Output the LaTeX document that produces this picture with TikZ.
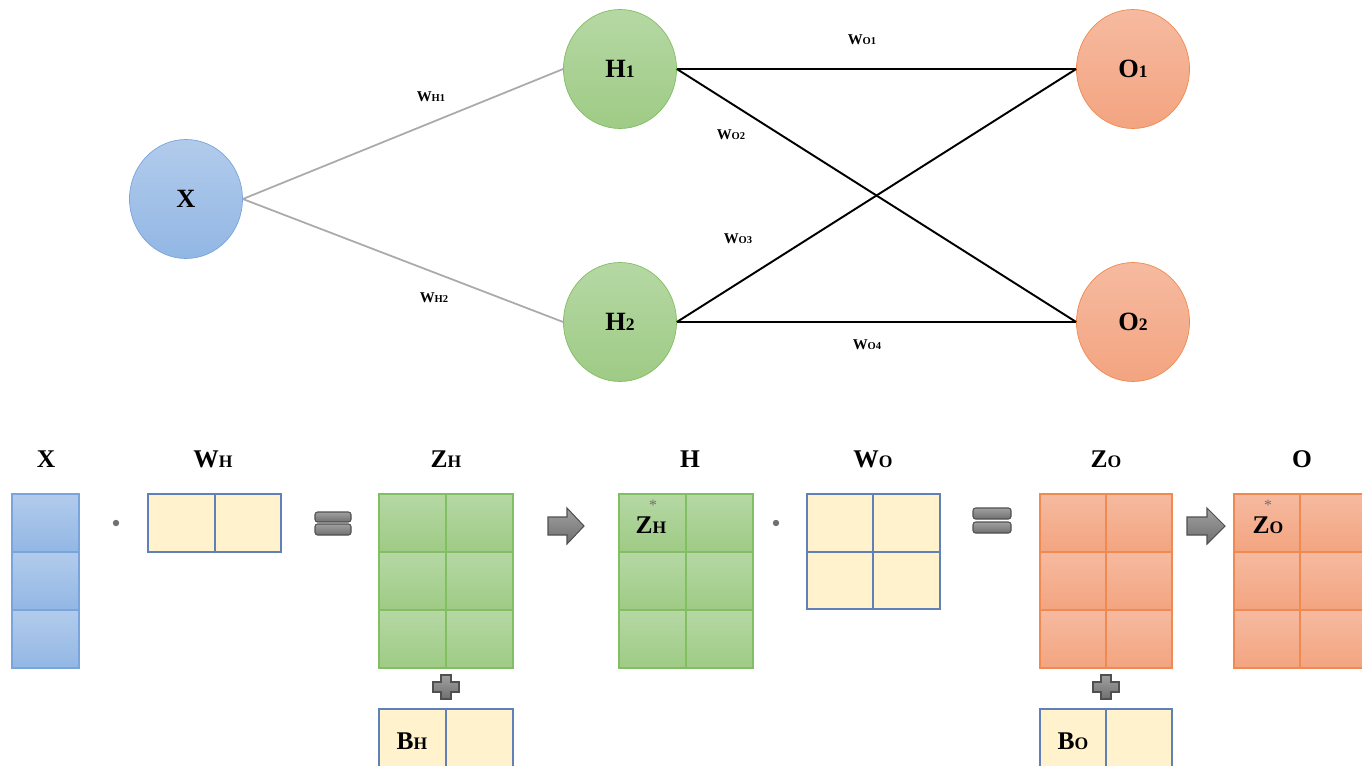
\documentclass[tikz,border=0pt]{standalone}
\usepackage{fontspec}
\setmainfont{Liberation Serif}
\definecolor{bluetop}{RGB}{178,203,236}
\definecolor{bluebot}{RGB}{146,183,228}
\definecolor{blueline}{RGB}{122,164,220}
\definecolor{greentop}{RGB}{182,216,164}
\definecolor{greenbot}{RGB}{158,203,133}
\definecolor{greenline}{RGB}{130,190,98}
\definecolor{orangetop}{RGB}{246,186,160}
\definecolor{orangebot}{RGB}{243,164,128}
\definecolor{orangeline}{RGB}{240,138,80}
\definecolor{paper}{RGB}{255,242,204}
\definecolor{paperline}{RGB}{96,128,184}
\definecolor{shapetop}{RGB}{160,160,160}
\definecolor{shapebot}{RGB}{112,112,112}
\definecolor{shapeline}{RGB}{80,80,80}
\definecolor{wire}{RGB}{170,170,170}
\usepackage{tikz}
\usetikzlibrary{shapes.geometric}
\newcommand{\bigsub}[1]{{\fontsize{10}{11}\selectfont #1}}
\newcommand{\tinysub}[1]{{\fontsize{6}{7}\selectfont #1}}

\begin{document}
\begin{tikzpicture}[x=0.02cm, y=-0.02cm,
    neuron/.style={ellipse, minimum width=2.26cm, minimum height=2.38cm, inner sep=0pt,
      font=\fontsize{15}{17}\selectfont\bfseries},
    bluenode/.style={neuron, top color=bluetop, bottom color=bluebot, draw=blueline},
    greennode/.style={neuron, top color=greentop, bottom color=greenbot, draw=greenline},
    orangenode/.style={neuron, top color=orangetop, bottom color=orangebot, draw=orangeline},
    wlabel/.style={font=\fontsize{8.5}{9}\selectfont\bfseries, inner sep=0pt},
    title/.style={font=\fontsize{14.5}{16}\selectfont\bfseries, inner sep=0pt},
    bluecell/.style={top color=bluetop, bottom color=bluebot, draw=blueline, line width=0.6pt},
    greencell/.style={top color=greentop, bottom color=greenbot, draw=greenline, line width=0.6pt},
    orangecell/.style={top color=orangetop, bottom color=orangebot, draw=orangeline, line width=0.6pt},
    papercell/.style={fill=paper, draw=paperline, line width=0.6pt},
    grayshape/.style={top color=shapetop, bottom color=shapebot, draw=shapeline, line width=0.6pt},
    starmark/.style={font=\fontsize{9}{9}\selectfont, text=shapebot, inner sep=0pt}]
        \clip (0,0) rectangle (1362,765);
        \fill[white] (0,0) rectangle (1362,765);
        % network
        \node[bluenode] (X) at (186,199) {X};
        \node[greennode] (H1) at (620,69) {H\bigsub{1}};
        \node[greennode] (H2) at (620,322) {H\bigsub{2}};
        \node[orangenode] (O1) at (1133,69) {O\bigsub{1}};
        \node[orangenode] (O2) at (1133,322) {O\bigsub{2}};
        \draw[wire, line width=1pt] (X.east) -- (H1.west);
        \draw[wire, line width=1pt] (X.east) -- (H2.west);
        \draw[black, line width=1.1pt] (H1.east) -- (O1.west);
        \draw[black, line width=1.1pt] (H1.east) -- (O2.west);
        \draw[black, line width=1.1pt] (H2.east) -- (O1.west);
        \draw[black, line width=1.1pt] (H2.east) -- (O2.west);
        \node[wlabel] (wh1) at (431,97) {W\tinysub{H1}};
        \node[wlabel] (wh2) at (434,298) {W\tinysub{H2}};
        \node[wlabel] (wo1) at (862,40) {W\tinysub{O1}};
        \node[wlabel] (wo2) at (731,135) {W\tinysub{O2}};
        \node[wlabel] (wo3) at (738,239) {W\tinysub{O3}};
        \node[wlabel] (wo4) at (867,345) {W\tinysub{O4}};
        % matrices
        \node[title] (tx) at (46,459) {X};
        \node[title] (twh) at (213,459) {W\bigsub{H}};
        \node[title] (tzh) at (446,459) {Z\bigsub{H}};
        \node[title] (th) at (690,459) {H};
        \node[title] (two) at (873,459) {W\bigsub{O}};
        \node[title] (tzo) at (1106,459) {Z\bigsub{O}};
        \node[title] (to) at (1302,459) {O};
        \shade[bluecell] (12,494) rectangle ++(67,58);
        \shade[bluecell] (12,552) rectangle ++(67,58);
        \shade[bluecell] (12,610) rectangle ++(67,58);
        \fill[shapebot] (116,523) circle (3.2);
        \draw[papercell] (148,494) rectangle ++(67,58);
        \draw[papercell] (215,494) rectangle ++(66,58);
        \draw[grayshape, rounded corners=1.5] (315,512) rectangle (351,522);
        \draw[grayshape, rounded corners=1.5] (315,524) rectangle (351,535);
        \shade[greencell] (379,494) rectangle ++(67,58);
        \shade[greencell] (446,494) rectangle ++(67,58);
        \shade[greencell] (379,552) rectangle ++(67,58);
        \shade[greencell] (446,552) rectangle ++(67,58);
        \shade[greencell] (379,610) rectangle ++(67,58);
        \shade[greencell] (446,610) rectangle ++(67,58);
        \draw[grayshape] (433,682) -- (441,682) -- (441,675) -- (451,675) -- (451,682) -- (459,682)
          -- (459,692) -- (451,692) -- (451,699) -- (441,699) -- (441,692) -- (433,692) -- cycle;
        \draw[papercell] (379,709) rectangle ++(67,58);
        \draw[papercell] (446,709) rectangle ++(67,58);
        \node[title, anchor=center] (bh) at (412,741) {B\bigsub{H}};
        \draw[grayshape] (548,517) -- (567,517) -- (567,508) -- (584,526) -- (567,544) -- (567,535) -- (548,535) -- cycle;
        \shade[greencell] (619,494) rectangle ++(67,58);
        \shade[greencell] (686,494) rectangle ++(67,58);
        \shade[greencell] (619,552) rectangle ++(67,58);
        \shade[greencell] (686,552) rectangle ++(67,58);
        \shade[greencell] (619,610) rectangle ++(67,58);
        \shade[greencell] (686,610) rectangle ++(67,58);
        \node[title] (zh) at (651,525) {Z\bigsub{H}};
        \node[starmark] (zhstar) at (653,505) {*};
        \fill[shapebot] (776,523) circle (3.2);
        \draw[papercell] (807,494) rectangle ++(66,58);
        \draw[papercell] (873,494) rectangle ++(67,58);
        \draw[papercell] (807,552) rectangle ++(66,57);
        \draw[papercell] (873,552) rectangle ++(67,57);
        \draw[grayshape, rounded corners=1.5] (973,508) rectangle (1011,519);
        \draw[grayshape, rounded corners=1.5] (973,522) rectangle (1011,533);
        \shade[orangecell] (1040,494) rectangle ++(66,58);
        \shade[orangecell] (1106,494) rectangle ++(66,58);
        \shade[orangecell] (1040,552) rectangle ++(66,58);
        \shade[orangecell] (1106,552) rectangle ++(66,58);
        \shade[orangecell] (1040,610) rectangle ++(66,58);
        \shade[orangecell] (1106,610) rectangle ++(66,58);
        \draw[grayshape] (1093,682) -- (1101,682) -- (1101,675) -- (1111,675) -- (1111,682) -- (1119,682)
          -- (1119,692) -- (1111,692) -- (1111,699) -- (1101,699) -- (1101,692) -- (1093,692) -- cycle;
        \draw[papercell] (1040,709) rectangle ++(66,58);
        \draw[papercell] (1106,709) rectangle ++(66,58);
        \node[title] (bo) at (1073,741) {B\bigsub{O}};
        \draw[grayshape] (1187,517) -- (1207,517) -- (1207,508) -- (1225,526) -- (1207,544) -- (1207,535) -- (1187,535) -- cycle;
        \shade[orangecell] (1234,494) rectangle ++(66,58);
        \shade[orangecell] (1300,494) rectangle ++(67,58);
        \shade[orangecell] (1234,552) rectangle ++(66,58);
        \shade[orangecell] (1300,552) rectangle ++(67,58);
        \shade[orangecell] (1234,610) rectangle ++(66,58);
        \shade[orangecell] (1300,610) rectangle ++(67,58);
        \node[title] (zo) at (1268,525) {Z\bigsub{O}};
        \node[starmark] (zostar) at (1268,505) {*};
      \end{tikzpicture}
\end{document}
